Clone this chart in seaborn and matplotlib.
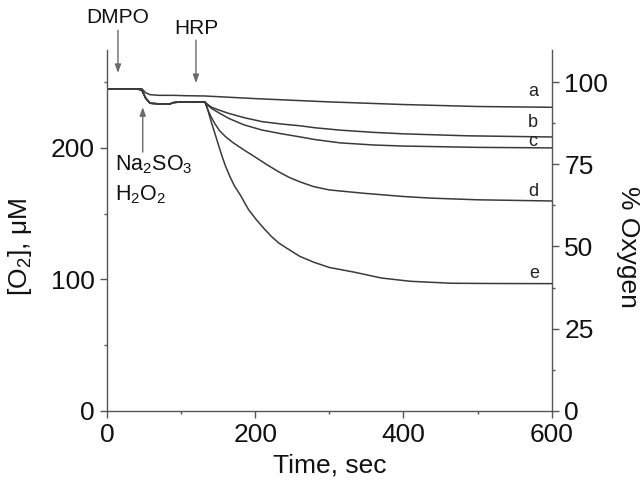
import matplotlib
matplotlib.use("Agg")
import matplotlib.pyplot as plt
import seaborn as sns
import pandas as pd

# ---- data ----
pre_t = [0, 40, 47, 52, 58, 70, 85, 90, 100, 120, 132]
pre_a = [245, 245, 245, 242, 240.5, 240, 240, 240, 239.8, 239.6, 239.5]
pre_low = [245, 245, 244, 238, 234, 233.5, 233.5, 234.5, 235, 235, 235]

a_t = [200, 300, 400, 500, 600]
a_v = [237.5, 235, 233, 231.5, 230.9]

b_t = [136, 141, 150, 164, 185, 209, 235, 261, 281, 315, 360, 400, 486, 600]
b_v = [233, 231, 229, 226.3, 223, 220, 218.2, 216.8, 215.3, 213.5, 211.8, 210.7, 209.2, 208.3]

c_t = [136, 141, 150, 164, 185, 209, 235, 261, 281, 315, 360, 400, 500, 600]
c_v = [232.5, 230, 227, 222.5, 217.5, 213.6, 210.8, 208.3, 206.3, 203.8, 202.2, 201.4, 200.4, 200]

d_t = [136, 141, 146, 152, 160, 170, 186, 200, 215, 231, 246, 261, 279, 300, 346, 400, 436, 500, 600]
d_v = [229, 223, 218, 213, 208.5, 204, 198, 193, 187.5, 182, 177.5, 174, 170.5, 168, 165.5, 163, 161.8, 160.5, 159.6]

e_t = [135, 140, 145, 150, 155, 160, 166, 172, 180, 191, 202, 212, 222, 232, 243, 260, 279, 300, 333, 370, 409, 464, 520, 600]
e_v = [231, 221, 212, 203, 194, 186, 178, 171, 164, 153, 145, 138.5, 132.5, 127.5, 123.5, 117.5, 113, 109, 105.5, 101, 98.5, 97, 96.8, 96.7]

series_names = ["a", "b", "c", "d", "e"]
label_t = [575, 575, 575, 575, 577]
label_v = [243, 219, 205, 167, 104.5]

left_ticks = [0, 100, 200]
right_ticks = [0, 25, 50, 75, 100]

rows = []
for name, tt, vv in zip(series_names,
                        [a_t, b_t, c_t, d_t, e_t],
                        [a_v, b_v, c_v, d_v, e_v]):
    base = pre_a if name == "a" else pre_low
    for t, v in zip(pre_t + tt, base + vv):
        rows.append({"series": name, "t": t, "o2": v})
df = pd.DataFrame(rows)

# ---- figure ----
sns.set_style("ticks")
plt.rcParams["font.family"] = ["Liberation Sans", "DejaVu Sans"]
plt.rcParams["mathtext.fontset"] = "custom"
plt.rcParams["mathtext.rm"] = "Liberation Sans"
plt.rcParams["mathtext.it"] = "Liberation Sans:italic"
plt.rcParams["mathtext.bf"] = "Liberation Sans:bold"

W, H = 644, 487
fig = plt.figure(figsize=(W / 100, H / 100), dpi=100)
L, R, B, T = 107, 551.7, 410.7, 50
ax = fig.add_axes([L / W, (H - B) / H, (R - L) / W, (B - T) / H])

def px(x, y):
    return x / W, (H - y) / H

line_col = "#3a3a3a"
spine_col = "#555555"
txt_col = "#111111"

for name in series_names:
    sub = df[df["series"] == name]
    sns.lineplot(data=sub, x="t", y="o2", ax=ax, color=line_col, lw=1.1,
                 estimator=None, sort=False, legend=False)

ymax = 274.5
ax.set_xlim(0, 600)
ax.set_ylim(0, ymax)
ax.set_xticks([0, 200, 400, 600])
ax.set_xticks([100, 300, 500], minor=True)
ax.set_yticks(left_ticks)
ax.set_yticks([50, 150, 250], minor=True)
ax.spines["top"].set_visible(False)
ax.spines["right"].set_visible(False)
for s in ["left", "bottom"]:
    ax.spines[s].set_color(spine_col)
    ax.spines[s].set_linewidth(1.0)
ax.tick_params(which="major", length=5, width=1, color=spine_col,
               labelsize=19, pad=4, labelcolor=txt_col)
ax.tick_params(which="minor", length=2.5, width=1, color=spine_col)
ax.set_xlabel("")
ax.set_ylabel("")

ax2 = ax.twinx()
ax2.set_ylim(0, ymax / 2.5)
ax2.set_yticks(right_ticks)
ax2.set_yticks([12.5, 37.5, 62.5, 87.5], minor=True)
for s in ["top", "left", "bottom"]:
    ax2.spines[s].set_visible(False)
ax2.spines["right"].set_color(spine_col)
ax2.spines["right"].set_linewidth(1.0)
ax2.tick_params(which="major", length=5, width=1, color=spine_col,
                labelsize=19, pad=4, labelcolor=txt_col)
ax2.tick_params(which="minor", length=2.5, width=1, color=spine_col)

# axis titles
fig.text(*px(330, 466), "Time, sec", fontsize=19, ha="center", va="center", color=txt_col)
fig.text(*px(20, 247), "[O$_2$], \u03bcM", fontsize=19, ha="center", va="center",
         rotation=90, color=txt_col)
fig.text(*px(628, 247), "% Oxygen", fontsize=19, ha="center", va="center",
         rotation=270, color=txt_col)

# series letters
for name, lt, lv in zip(series_names, label_t, label_v):
    ax.text(lt, lv, name, fontsize=13, ha="center", va="center", color="#222222")

# annotations
arrow_col = "#6a6a6a"
ap = dict(arrowstyle="-|>,head_length=0.5,head_width=0.18", color=arrow_col, lw=1.0,
          shrinkA=0, shrinkB=0)
ax.annotate("", xy=(14.8, 257), xytext=(14.8, 289.5), arrowprops=ap,
            annotation_clip=False)
fig.text(*px(118, 17.5), "DMPO", fontsize=15, ha="center", va="center", color=txt_col)
ax.annotate("", xy=(120, 249.3), xytext=(120, 282), arrowprops=ap,
            annotation_clip=False)
fig.text(*px(196, 28), "HRP", fontsize=15, ha="center", va="center", color=txt_col)
ax.annotate("", xy=(48.2, 231), xytext=(48.2, 196.8), arrowprops=ap,
            annotation_clip=False)
fig.text(*px(115, 170), "Na$_2$SO$_3$", fontsize=15.5, ha="left", va="baseline",
         color=txt_col)
fig.text(*px(115, 200), "H$_2$O$_2$", fontsize=15.5, ha="left", va="baseline",
         color=txt_col)

fig.savefig("out.png", dpi=100)
